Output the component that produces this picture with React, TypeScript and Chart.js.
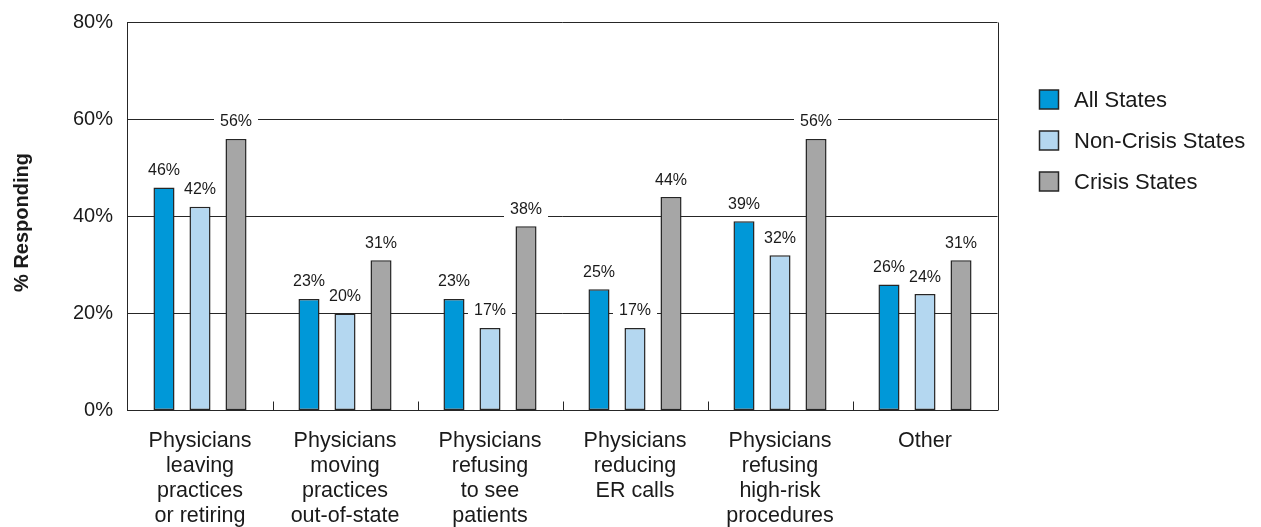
import React, { useEffect, useRef } from "react";
import { Chart, registerables } from "chart.js";

Chart.register(...registerables);

// Survey responses by region, percent of physicians
const categories: string[][] = [
  ["Physicians", "leaving", "practices", "or retiring"],
  ["Physicians", "moving", "practices", "out-of-state"],
  ["Physicians", "refusing", "to see", "patients"],
  ["Physicians", "reducing", "ER calls"],
  ["Physicians", "refusing", "high-risk", "procedures"],
  ["Other"],
];
const seriesNames = ["All States", "Non-Crisis States", "Crisis States"];
const allStates = [46, 23, 23, 25, 39, 26];
const nonCrisisStates = [42, 20, 17, 17, 32, 24];
const crisisStates = [56, 31, 38, 44, 56, 31];
const yTicks = [0, 20, 40, 60, 80];
const axisTitle = "% Responding";

const seriesColors = ["#0098D8", "#B4D7F0", "#A6A6A6"];
const EDGE = "#262626";
const INK = "#1a1a1a";
const FONT = "'Liberation Sans', Arial, Helvetica, sans-serif";

const W = 1261;
const H = 527;

const decorations = {
  id: "decorations",
  afterDatasetsDraw(chart: any) {
    const { ctx, chartArea: a, scales } = chart;
    const x = scales.x;
    ctx.save();

    // right edge of the plot frame
    ctx.strokeStyle = EDGE;
    ctx.lineWidth = 1;
    ctx.beginPath();
    ctx.moveTo(Math.round(a.right) + 0.5, a.top);
    ctx.lineTo(Math.round(a.right) + 0.5, a.bottom);
    ctx.stroke();

    // short separators between category groups
    for (let i = 1; i < categories.length; i++) {
      const px = (x.getPixelForValue(i - 1) + x.getPixelForValue(i)) / 2;
      const xx = Math.round(px) + 0.5;
      ctx.beginPath();
      ctx.moveTo(xx, a.bottom);
      ctx.lineTo(xx, a.bottom - 9);
      ctx.stroke();
    }

    // value labels on white plates above each bar
    ctx.font = `16px ${FONT}`;
    ctx.textAlign = "center";
    ctx.textBaseline = "middle";
    const labels: { x: number; y: number; text: string; w: number }[] = [];
    chart.data.datasets.forEach((ds: any, di: number) => {
      const meta = chart.getDatasetMeta(di);
      meta.data.forEach((bar: any, i: number) => {
        const text = `${ds.data[i]}%`;
        labels.push({ x: bar.x, y: bar.y - 17.5, text, w: ctx.measureText(text).width });
      });
    });
    ctx.fillStyle = "#ffffff";
    labels.forEach((l) => ctx.fillRect(l.x - l.w / 2 - 6, l.y - 9, l.w + 12, 18));
    ctx.fillStyle = INK;
    labels.forEach((l) => ctx.fillText(l.text, l.x, l.y + 0.5));

    ctx.restore();
  },
  afterDraw(chart: any) {
    const { ctx, chartArea: a } = chart;
    ctx.save();

    // rotated axis title
    ctx.translate(22, (a.top + a.bottom) / 2 + 6);
    ctx.rotate(-Math.PI / 2);
    ctx.font = `bold 20px ${FONT}`;
    ctx.fillStyle = INK;
    ctx.textAlign = "center";
    ctx.textBaseline = "middle";
    ctx.fillText(axisTitle, 0, 0);
    ctx.setTransform(1, 0, 0, 1, 0, 0);

    // legend
    const rowY = [99.5, 140.5, 181.5];
    ctx.font = `22px ${FONT}`;
    ctx.textAlign = "left";
    ctx.textBaseline = "middle";
    seriesNames.forEach((name, i) => {
      const y = rowY[i];
      ctx.fillStyle = seriesColors[i];
      ctx.fillRect(1039.5, y - 9.5, 19, 19);
      ctx.strokeStyle = EDGE;
      ctx.lineWidth = 1.5;
      ctx.strokeRect(1039.5, y - 9.5, 19, 19);
      ctx.fillStyle = INK;
      ctx.fillText(name, 1074, y + 1);
    });

    ctx.restore();
  },
};

export default function App() {
  const ref = useRef<HTMLCanvasElement | null>(null);

  useEffect(() => {
    if (!ref.current) return;
    const series = [allStates, nonCrisisStates, crisisStates];
    const chart = new Chart(ref.current, {
      type: "bar",
      data: {
        labels: categories,
        datasets: series.map((values, i) => ({
          label: seriesNames[i],
          data: values,
          backgroundColor: seriesColors[i],
          borderColor: EDGE,
          borderWidth: 1.5,
          borderSkipped: false,
          categoryPercentage: 0.745,
          barPercentage: 0.585,
        })),
      },
      options: {
        responsive: false,
        animation: false,
        devicePixelRatio: 1,
        layout: { padding: { top: 22.5, right: 263.5, left: 0, bottom: 0 } },
        plugins: {
          legend: { display: false },
          tooltip: { enabled: false },
        },
        scales: {
          x: {
            grid: { display: false },
            border: { display: true, color: EDGE, width: 1 },
            ticks: {
              color: INK,
              font: { family: FONT, size: 21.5, lineHeight: "25px" },
              padding: 10,
              maxRotation: 0,
              autoSkip: false,
            },
            afterFit: (scale: any) => {
              scale.height = H - 410.5;
            },
          },
          y: {
            min: yTicks[0],
            max: yTicks[yTicks.length - 1],
            afterBuildTicks: (scale: any) => {
              scale.ticks = yTicks.map((v) => ({ value: v }));
            },
            grid: { color: EDGE, lineWidth: 1, drawTicks: false },
            border: { display: true, color: EDGE, width: 1 },
            ticks: {
              color: INK,
              font: { family: FONT, size: 20 },
              padding: 14.5,
              callback: (v: any) => `${v}%`,
            },
            afterFit: (scale: any) => {
              scale.width = 127.5;
              scale.paddingTop = 0;
              scale.paddingBottom = 0;
            },
          },
        },
      },
      plugins: [decorations],
    });
    return () => chart.destroy();
  }, []);

  return (
    <div style={{ position: "absolute", left: 0, top: 0, width: W, height: H, background: "#fff" }}>
      <canvas ref={ref} width={W} height={H} style={{ display: "block", width: W, height: H }} />
    </div>
  );
}
